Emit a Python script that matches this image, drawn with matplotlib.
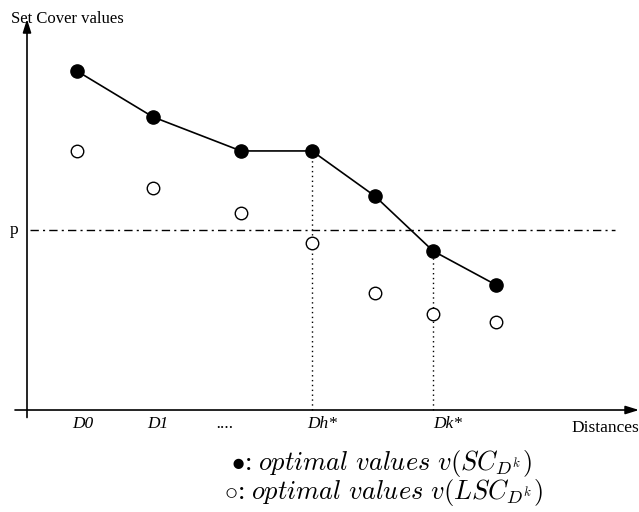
import matplotlib
matplotlib.use("Agg")
import matplotlib.pyplot as plt

plt.rcParams['font.family'] = ['Liberation Serif', 'DejaVu Serif']
plt.rcParams['mathtext.fontset'] = 'cm'

# distances positions and set cover values (arbitrary units)
dist = [5.0, 12.6, 21.4, 28.5, 34.8, 40.6, 46.9]
sc_values = [9.97, 8.62, 7.62, 7.62, 6.29, 4.68, 3.68]
lsc_values = [7.62, 6.53, 5.79, 4.91, 3.44, 2.82, 2.59]
p_value = 5.3
dh_idx = 3
dk_idx = 5

tick_pos = [5.6, 13.1, 19.8, 29.5, 42.1]
tick_labels = ["D0", "D1", "....", "Dh*", "Dk*"]

fig = plt.figure(figsize=(6.39, 5.12), dpi=100)
ax = fig.add_axes([0, 0, 1, 1])
ax.set_xlim(-2.7, 61.2)
ax.set_ylim(-3.0, 12.06)
ax.axis('off')

# axes with arrows
ax.annotate('', xy=(0, 11.5), xytext=(0, -0.22),
            arrowprops=dict(arrowstyle='-|>,head_length=0.8,head_width=0.25',
                            color='black', lw=1.2, shrinkA=0, shrinkB=0))
ax.annotate('', xy=(61.2, 0), xytext=(-1.2, 0),
            arrowprops=dict(arrowstyle='-|>,head_length=0.8,head_width=0.25',
                            color='black', lw=1.2, shrinkA=0, shrinkB=0))

# p threshold
ax.plot([0.3, 58.8], [p_value, p_value], color='black', lw=1,
        linestyle=(0, (6, 3, 1.5, 3)))

# dotted verticals
for i in (dh_idx, dk_idx):
    ax.plot([dist[i], dist[i]], [0, sc_values[i]], color='black', lw=1,
            linestyle=(0, (1, 2.5)))

ax.plot(dist, sc_values, color='black', lw=1.2, marker='o', markersize=9.5,
        markerfacecolor='black', zorder=3)
ax.plot(dist, lsc_values, linestyle='none', marker='o', markersize=9,
        markerfacecolor='white', markeredgecolor='black', markeredgewidth=1, zorder=3)

for x, lab in zip(tick_pos, tick_labels):
    ax.text(x, -0.53, lab, ha='center', va='baseline', fontsize=12.5, style='italic')

ax.text(-1.6, 11.38, "Set Cover values", ha='left', va='baseline', fontsize=12)
ax.text(-1.7, p_value, "p", ha='left', va='center', fontsize=12.5)
ax.text(61.2, -0.65, "Distances", ha='right', va='baseline', fontsize=12.5)

ax.text(20.4, -1.56, r'$\bullet$: $optimal\ values\ v(SC_{D^k})$',
        ha='left', va='center', fontsize=19)
ax.text(19.7, -2.44, r'$\circ$: $optimal\ values\ v(LSC_{D^k})$',
        ha='left', va='center', fontsize=19)

fig.savefig("out.png", dpi=100)
